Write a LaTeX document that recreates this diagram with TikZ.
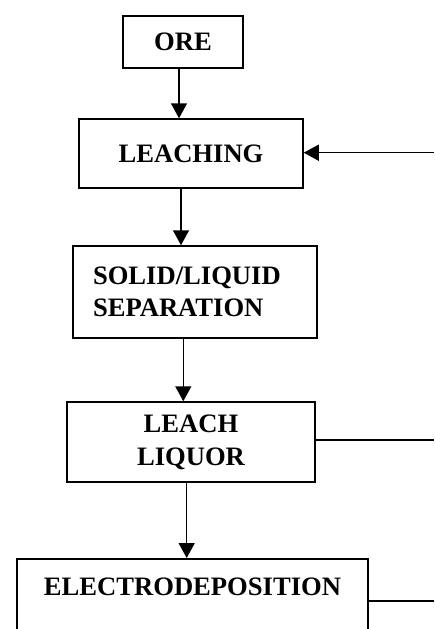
\documentclass[tikz,border=0pt]{standalone}
\usepackage{fontspec}
\setmainfont{Liberation Serif}
\usetikzlibrary{arrows.meta}
\begin{document}
\begin{tikzpicture}[x=1pt,y=-1pt,
  box/.style={draw,line width=1.5pt,inner sep=0pt,font=\fontsize{26.6pt}{33pt}\selectfont\bfseries,align=center},
  arr/.style={line width=1.5pt,-{Triangle[width=16pt,length=15pt]}},
  ln/.style={line width=1.5pt}]
\useasboundingbox (0,0) rectangle (434,629);
\clip (0,0) rectangle (434,629);
\node[box,minimum width=120pt,minimum height=52pt] (ore) at (183,42) {ORE};
\node[box,minimum width=224pt,minimum height=69pt] (leach) at (191,153.5) {LEACHING};
\node[box,minimum height=92pt,text width=204pt,inner xsep=20pt,align=left,font=\fontsize{26.6pt}{31.6pt}\selectfont\bfseries] (sep) at (195,292) {SOLID/LIQUID\\SEPARATION};
\node[box,minimum width=248pt,minimum height=80pt] (liquor) at (191,442) {LEACH\\LIQUOR};
\node[box,anchor=north,minimum width=351pt,inner ysep=19pt,text height=17.6pt,text depth=80pt] (elec) at (192.5,558) {ELECTRODEPOSITION};
\coordinate (c1) at (179,0);
\coordinate (c2) at (181,0);
\coordinate (c3) at (183.3,0);
\coordinate (c4) at (186.7,0);
\coordinate (r1) at (434,152.7);
\coordinate (r2) at (434,440);
\coordinate (r3) at (434,601);
\draw[arr] (ore.south -| c1) -- (leach.north -| c1);
\draw[arr] (leach.south -| c2) -- (sep.north -| c2);
\draw[arr] (sep.south -| c3) -- (liquor.north -| c3);
\draw[arr] (liquor.south -| c4) -- (elec.north -| c4);
\draw[arr] (r1) -- (r1 -| leach.east);
\draw[ln] (r2 -| liquor.east) -- (r2);
\draw[ln] (r3 -| elec.east) -- (r3);
\end{tikzpicture}
\end{document}
